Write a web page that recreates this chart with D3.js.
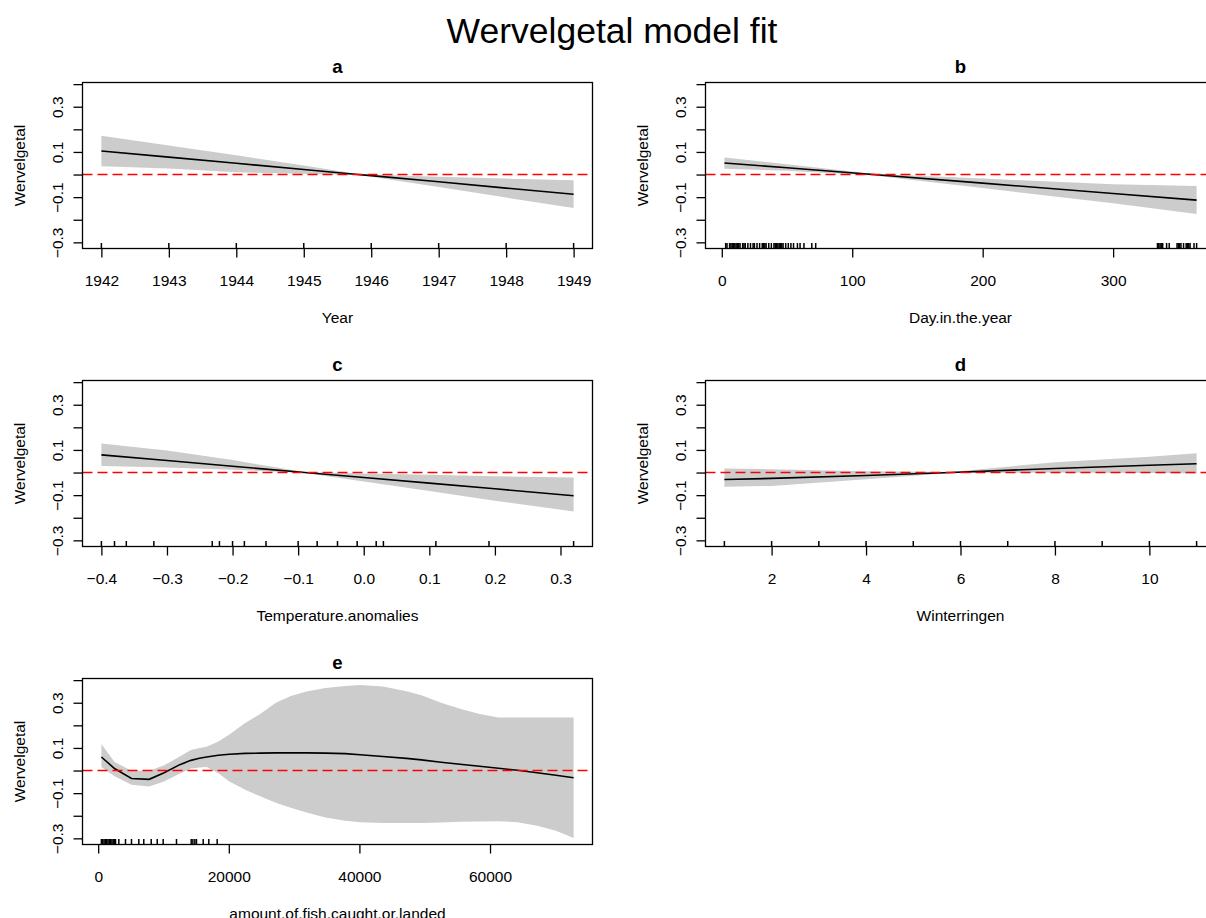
<!DOCTYPE html>
<html>
<head>
<meta charset="utf-8">
<script src="https://cdn.jsdelivr.net/npm/d3@7"></script>
<style>
  body { margin: 0; background: #fff; }
  text { font-family: "Liberation Sans", Arial, sans-serif; fill: #000; }
</style>
</head>
<body>
<div id="chart"></div>
<script>
// shared y axis (plot.gam uses one scale for all terms)
const yLimits = [-0.30, 0.38];
const yTicks = [-0.3, -0.2, -0.1, 0, 0.1, 0.2, 0.3, 0.4];
const yLabelTicks = [-0.3, -0.1, 0.1, 0.3];

// a: Year
const yearX = [1942, 1943, 1944, 1945, 1945.8, 1946, 1947, 1948, 1949];
const yearFit = [0.104, 0.077, 0.050, 0.022, 0.000, -0.005, -0.032, -0.060, -0.087];
const yearUpper = [0.172, 0.128, 0.085, 0.040, 0.002, 0.000, -0.010, -0.018, -0.025];
const yearLower = [0.037, 0.027, 0.010, 0.004, -0.002, -0.010, -0.055, -0.102, -0.148];
const yearRug = [1942, 1943, 1944, 1945, 1946, 1947, 1948, 1949];
const yearTicks = [1942, 1943, 1944, 1945, 1946, 1947, 1948, 1949];

// b: Day.in.the.year
const dayX = [2, 50, 116, 200, 300, 364];
const dayFit = [0.051, 0.030, 0.000, -0.038, -0.084, -0.113];
const dayUpper = [0.075, 0.046, 0.004, -0.018, -0.043, -0.051];
const dayLower = [0.026, 0.017, -0.004, -0.060, -0.127, -0.175];
const dayRug = [3, 4, 6, 7, 8, 9, 10, 11, 12, 13, 14, 16, 17, 18, 20, 22, 24, 25, 27, 29, 31, 32, 33, 34,
  36, 38, 40, 41, 42, 43, 44, 45, 46, 47, 49, 51, 53, 55, 58, 60, 63, 69, 72,
  334, 335, 336, 337, 338, 341, 343, 349, 350, 351, 352, 354, 356, 357, 358, 359, 362, 364];
const dayTicks = [0, 100, 200, 300];

// c: Temperature.anomalies
const tempX = [-0.40, -0.30, -0.20, -0.09, 0.00, 0.10, 0.20, 0.32];
const tempFit = [0.078, 0.053, 0.028, 0.000, -0.022, -0.047, -0.072, -0.103];
const tempUpper = [0.128, 0.098, 0.055, 0.002, -0.004, -0.010, -0.016, -0.022];
const tempLower = [0.029, 0.022, 0.012, -0.002, -0.040, -0.082, -0.125, -0.172];
const tempRug = [-0.400, -0.380, -0.362, -0.320, -0.231, -0.220, -0.200, -0.182, -0.149, -0.100,
  -0.071, -0.040, -0.010, 0.019, 0.030, 0.110, 0.191, 0.320];
const tempTicks = [-0.4, -0.3, -0.2, -0.1, 0.0, 0.1, 0.2, 0.3];

// d: Winterringen
const ringX = [1, 2, 4, 5.8, 8, 10, 11];
const ringFit = [-0.031, -0.026, -0.013, 0.000, 0.018, 0.032, 0.039];
const ringUpper = [0.018, 0.015, 0.006, 0.002, 0.046, 0.070, 0.085];
const ringLower = [-0.063, -0.059, -0.030, -0.002, 0.000, -0.002, -0.004];
const ringRug = [1, 2, 3, 4, 5, 6, 7, 8, 9, 10, 11];
const ringTicks = [2, 4, 6, 8, 10];

// e: amount.of.fish.caught.or.landed
const fishX = [490, 2500, 5100, 7800, 10100, 12500, 14200, 15500, 16600, 18400, 20100, 22500, 24800,
  27200, 29500, 31900, 34800, 37800, 40100, 43600, 47200, 49500, 52500, 55400, 58400, 61300,
  64200, 67200, 70100, 72800];
const fishFit = [0.060, 0.009, -0.035, -0.039, -0.010, 0.026, 0.045, 0.054, 0.060, 0.068, 0.072, 0.076,
  0.077, 0.078, 0.078, 0.078, 0.077, 0.075, 0.070, 0.062, 0.054, 0.047, 0.037, 0.028, 0.019, 0.010,
  0.001, -0.010, -0.021, -0.032];
const fishUpper = [0.117, 0.038, -0.001, -0.001, 0.023, 0.062, 0.091, 0.100, 0.105, 0.128, 0.160, 0.210,
  0.250, 0.300, 0.330, 0.350, 0.365, 0.374, 0.378, 0.372, 0.351, 0.333, 0.300, 0.273, 0.250, 0.235,
  0.235, 0.235, 0.235, 0.235];
const fishLower = [0.016, -0.025, -0.063, -0.071, -0.049, -0.013, 0.009, 0.014, 0.016, -0.012, -0.049,
  -0.085, -0.114, -0.143, -0.165, -0.186, -0.208, -0.222, -0.229, -0.232, -0.232, -0.232, -0.230,
  -0.227, -0.225, -0.224, -0.229, -0.244, -0.266, -0.298];
const fishRug = [490, 700, 900, 1100, 1300, 1500, 1700, 1900, 2100, 2300, 2500, 2650, 3160, 4180, 5100,
  6220, 6980, 8120, 9040, 9950, 11990, 14240, 14500, 14800, 15050, 16080, 16940, 18220];
const fishTicks = [0, 20000, 40000, 60000];

(function(){
    const W = 1206, H = 918;
    const colLeft = [82.5, 705.5];
    const rowTop = [82.5, 380.5, 678.5];
    const boxW = 510, boxH = 166;
    const fontSize = 15.5;

    const panels = [
        { title: "a", label: "Year", col: 0, row: 0, x: yearX, fit: yearFit, up: yearUpper, lo: yearLower, rug: yearRug, ticks: yearTicks, fmt: d3.format("d") },
        { title: "b", label: "Day.in.the.year", col: 1, row: 0, x: dayX, fit: dayFit, up: dayUpper, lo: dayLower, rug: dayRug, ticks: dayTicks, fmt: d3.format("d") },
        { title: "c", label: "Temperature.anomalies", col: 0, row: 1, x: tempX, fit: tempFit, up: tempUpper, lo: tempLower, rug: tempRug, ticks: tempTicks, fmt: d3.format(".1f") },
        { title: "d", label: "Winterringen", col: 1, row: 1, x: ringX, fit: ringFit, up: ringUpper, lo: ringLower, rug: ringRug, ticks: ringTicks, fmt: d3.format("d") },
        { title: "e", label: "amount.of.fish.caught.or.landed", col: 0, row: 2, x: fishX, fit: fishFit, up: fishUpper, lo: fishLower, rug: fishRug, ticks: fishTicks, fmt: d3.format("d") }
    ];

    const svg = d3.select("#chart")
        .append("svg")
        .attr("width", W)
        .attr("height", H);

    // Main title
    svg.append("text")
        .attr("x", 612)
        .attr("y", 43)
        .attr("text-anchor", "middle")
        .style("font-size", "35.5px")
        .text("Wervelgetal model fit");

    // R style axis range: data range plus 4% on both sides
    function pad(ext) {
        const d = (ext[1] - ext[0]) * 0.04;
        return [ext[0] - d, ext[1] + d];
    }

    panels.forEach((p, k) => {
        const left = colLeft[p.col], top = rowTop[p.row];
        const g = svg.append("g").attr("transform", "translate(" + left + "," + top + ")");

        const x = d3.scaleLinear().domain(pad(d3.extent(p.x))).range([0, boxW]);
        const y = d3.scaleLinear().domain(pad(yLimits)).range([boxH, 0]);

        g.append("clipPath").attr("id", "clip" + k)
            .append("rect").attr("width", boxW).attr("height", boxH);

        const rows = p.x.map((v, i) => ({ x: v, fit: p.fit[i], up: p.up[i], lo: p.lo[i] }));

        const plot = g.append("g").attr("clip-path", "url(#clip" + k + ")");

        // confidence band
        plot.append("path")
            .datum(rows)
            .attr("d", d3.area().x(d => x(d.x)).y0(d => y(d.lo)).y1(d => y(d.up)))
            .style("fill", "#cccccc")
            .style("stroke", "none");

        // fitted smooth
        plot.append("path")
            .datum(rows)
            .attr("d", d3.line().x(d => x(d.x)).y(d => y(d.fit)))
            .style("fill", "none")
            .style("stroke", "#000")
            .style("stroke-width", 1.6);

        // zero reference line
        plot.append("line")
            .attr("x1", 0).attr("x2", boxW)
            .attr("y1", y(0)).attr("y2", y(0))
            .style("stroke", "#ff0000")
            .style("stroke-width", 1.6)
            .style("stroke-dasharray", "10,5");

        // rug
        g.selectAll(".rug")
            .data(p.rug)
            .enter().append("line")
            .attr("x1", d => x(d)).attr("x2", d => x(d))
            .attr("y1", boxH).attr("y2", boxH - 5.5)
            .style("stroke", "#000")
            .style("stroke-width", 1.5);

        // x axis
        const xa = g.append("g")
            .attr("transform", "translate(0," + boxH + ")")
            .call(d3.axisBottom(x).tickValues(p.ticks).tickFormat(p.fmt).tickSize(9).tickPadding(17));
        xa.select(".domain").remove();
        xa.selectAll("text").style("font-size", fontSize + "px").style("font-family", null);

        // y axis, labels turned like R (las = 0)
        const ya = g.append("g")
            .call(d3.axisLeft(y).tickValues(yTicks).tickSize(9)
                .tickFormat(d => yLabelTicks.some(v => Math.abs(v - d) < 1e-9) ? d3.format(".1f")(d) : ""));
        ya.select(".domain").remove();
        ya.selectAll("text")
            .attr("x", null).attr("dy", null)
            .attr("text-anchor", "middle")
            .attr("transform", "translate(-20,0) rotate(-90)")
            .style("font-size", fontSize + "px")
            .style("font-family", null);
        g.selectAll(".tick line").style("stroke", "#000").style("stroke-width", 1.3);

        // box
        g.append("rect")
            .attr("width", boxW).attr("height", boxH)
            .style("fill", "none")
            .style("stroke", "#000")
            .style("stroke-width", 1.3);

        // titles
        g.append("text")
            .attr("x", boxW / 2).attr("y", -9.5)
            .attr("text-anchor", "middle")
            .style("font-size", "18.6px")
            .style("font-weight", "bold")
            .text(p.title);

        g.append("text")
            .attr("x", boxW / 2).attr("y", boxH + 74)
            .attr("text-anchor", "middle")
            .style("font-size", fontSize + "px")
            .text(p.label);

        g.append("text")
            .attr("transform", "translate(-58," + (boxH / 2) + ") rotate(-90)")
            .attr("text-anchor", "middle")
            .style("font-size", fontSize + "px")
            .text("Wervelgetal");
    });
})();
</script>
</body>
</html>
